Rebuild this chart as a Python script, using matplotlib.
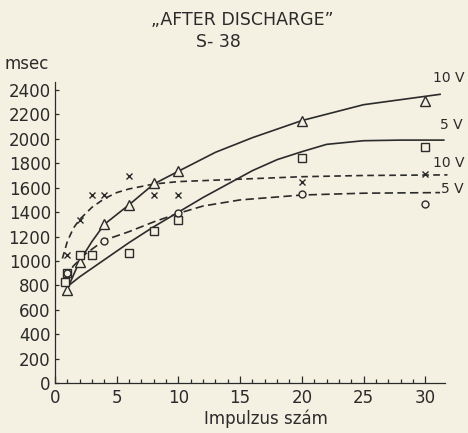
import matplotlib

matplotlib.use("Agg")
import matplotlib.pyplot as plt
from matplotlib.ticker import FixedLocator

# measured points
tri10_x = [1, 2, 4, 6, 8, 10, 20, 30]
tri10_y = [765, 990, 1300, 1460, 1640, 1740, 2150, 2310]

sq5_x = [0.8, 1, 2, 3, 6, 8, 10, 20, 30]
sq5_y = [830, 900, 1050, 1050, 1065, 1245, 1335, 1845, 1930]

cross10_x = [1, 2, 3, 4, 6, 8, 10, 20, 30]
cross10_y = [1050, 1335, 1540, 1540, 1695, 1540, 1540, 1650, 1710]

circ5_x = [1, 4, 10, 20, 30]
circ5_y = [900, 1160, 1390, 1545, 1465]

# fitted curves as drawn
fit10_solid_x = [1, 2, 3, 4, 6, 8, 10, 13, 16, 20, 25, 31.2]
fit10_solid_y = [770, 1000, 1160, 1300, 1460, 1630, 1735, 1890, 2010, 2150, 2280, 2365]

fit5_solid_x = [1, 2, 4, 6, 8, 10, 12, 14, 16, 18, 20, 22, 25, 28, 31.5]
fit5_solid_y = [790, 870, 1010, 1150, 1280, 1400, 1520, 1630, 1740, 1830, 1895, 1955, 1985, 1990, 1990]

fit10_dash_x = [0.6, 1, 1.5, 2, 3, 4, 5, 6, 8, 10, 15, 20, 25, 31.8]
fit10_dash_y = [1020, 1160, 1270, 1340, 1440, 1510, 1560, 1590, 1630, 1650, 1670, 1690, 1700, 1705]

fit5_dash_x = [0.8, 1.5, 2.5, 4, 6, 8, 10, 12, 15, 20, 25, 31.2]
fit5_dash_y = [860, 960, 1060, 1170, 1240, 1320, 1390, 1450, 1500, 1540, 1555, 1560]

yticks = list(range(0, 2401, 200))
xticks = [0, 5, 10, 15, 20, 25, 30]

BG = "#f4f0e2"
INK = "#2b2b2b"

plt.rcParams["font.family"] = ["DejaVu Sans"]

fig = plt.figure(figsize=(4.68, 4.33), dpi=100, facecolor=BG)
ax = fig.add_axes([55 / 468, 1 - 383 / 433, (445 - 55) / 468, (383 - 82) / 433])
ax.set_facecolor(BG)
ax.set_xlim(0, 31.6)
ax.set_ylim(0, 2466)

lw = 1.2
ax.plot(fit10_solid_x, fit10_solid_y, color=INK, lw=lw, clip_on=False)
ax.plot(fit5_solid_x, fit5_solid_y, color=INK, lw=lw, clip_on=False)
ax.plot(fit10_dash_x, fit10_dash_y, color=INK, lw=lw, dashes=(4, 2.6), clip_on=False)
ax.plot(fit5_dash_x, fit5_dash_y, color=INK, lw=lw, dashes=(5, 2.6), clip_on=False)

mk = dict(color=INK, ls="none", mfc=BG, mew=1.0, clip_on=False, zorder=3)
ax.plot(tri10_x, tri10_y, marker="^", ms=7, **mk)
ax.plot(sq5_x, sq5_y, marker="s", ms=5.5, **mk)
ax.plot(circ5_x, circ5_y, marker="o", ms=5, **mk)
ax.plot(cross10_x, cross10_y, marker="x", ms=5, **mk)

# curve labels at the right end
lab = dict(fontsize=10, color=INK, va="center", ha="left", clip_on=False)
ax.text(30.6, 2500, "10 V", **lab)
ax.text(31.2, 2113, "5 V", **lab)
ax.text(30.6, 1802, "10 V", **lab)
ax.text(31.3, 1590, "5 V", **lab)

for s in ["top", "right"]:
    ax.spines[s].set_visible(False)
for s in ["left", "bottom"]:
    ax.spines[s].set_color(INK)
    ax.spines[s].set_linewidth(0.9)

ax.set_yticks(yticks)
ax.set_yticklabels([str(v) for v in yticks])
ax.set_xticks(xticks)
ax.set_xticklabels([str(v) for v in xticks])
ax.xaxis.set_minor_locator(FixedLocator([v for v in range(0, 31) if v % 5]))
ax.tick_params(axis="both", which="both", direction="in", colors=INK, labelsize=12, width=0.9)
ax.tick_params(axis="y", length=3, pad=3)
ax.tick_params(axis="x", which="major", length=5, pad=4)
ax.tick_params(axis="x", which="minor", length=3)

fig.text(242 / 468, 1 - 20 / 433, "\u201eAFTER DISCHARGE\u201d", fontsize=12.5, color=INK,
         ha="center", va="center")
fig.text(218 / 468, 1 - 42 / 433, "S- 38", fontsize=12.5, color=INK, ha="center", va="center")
fig.text(5 / 468, 1 - 64 / 433, "msec", fontsize=12, color=INK, ha="left", va="center")
fig.text(266 / 468, 1 - 419 / 433, "Impulzus szám", fontsize=12, color=INK, ha="center", va="center")

fig.savefig("out.png", dpi=100, facecolor=BG)
